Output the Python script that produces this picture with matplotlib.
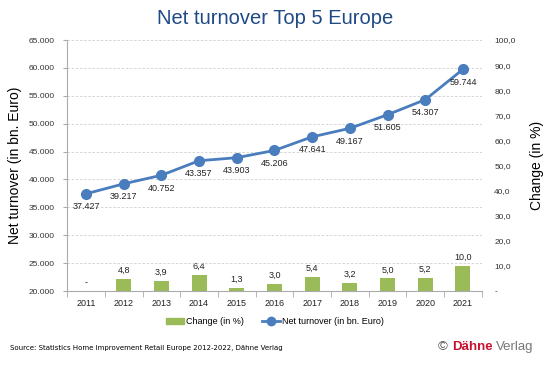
import numpy as np
import matplotlib.pyplot as plt
from matplotlib.patches import Patch
from matplotlib.lines import Line2D

# Daten
jahre = ['2011', '2012', '2013', '2014', '2015', '2016', '2017', '2018', '2019', '2020', '2021']
umsatz = [37427, 39217, 40752, 43357, 43903, 45206, 47641, 49167, 51605, 54307, 59744]
veraenderung = [np.nan, 4.8, 3.9, 6.4, 1.3, 3.0, 5.4, 3.2, 5.0, 5.2, 10.0]

blau = '#4a7dbd'
gruen = '#9bbb59'
titel_blau = '#1f4a86'

plt.rcParams['font.family'] = ['Liberation Sans', 'DejaVu Sans']

fig = plt.figure(figsize=(5.5, 3.67), dpi=100)
ax = fig.add_axes([0.122, 0.207, 0.754, 0.684])
ax2 = ax.twinx()

x = np.arange(len(jahre))

# Balken (rechte Achse)
ax2.bar(x, veraenderung, width=0.4, color=gruen, zorder=2)
for i, v in enumerate(veraenderung):
    txt = '-' if np.isnan(v) else f'{v:.1f}'.replace('.', ',')
    yv = 0 if np.isnan(v) else v
    ax2.annotate(txt, (i, yv), xytext=(0, 3), textcoords='offset points',
                 ha='center', va='bottom', fontsize=6.5, color='#222222')
ax2.set_ylim(0, 100)
ax2.set_yticks(np.arange(0, 101, 10))
ax2.set_yticklabels(['-'] + [f'{t:.1f}'.replace('.', ',') for t in np.arange(10, 101, 10)])
ax2.tick_params(axis='y', length=0, labelsize=6, colors='#333333', pad=9)
ax2.set_ylabel('Change (in %)', fontsize=10, labelpad=10)
for s in ax2.spines.values():
    s.set_visible(False)

# Linie (linke Achse)
ax.set_zorder(ax2.get_zorder() + 1)
ax.patch.set_visible(False)
ax.plot(x, umsatz, color=blau, lw=2, marker='o', ms=7, zorder=3)
for i, v in enumerate(umsatz):
    ax.annotate(f'{v:,}'.replace(',', '.'), (i, v), xytext=(0, -6), textcoords='offset points',
                ha='center', va='top', fontsize=6.5, color='#222222')
ax.set_ylim(20000, 65000)
ax.set_yticks(np.arange(20000, 65001, 5000))
ax.set_yticklabels([f'{t:,}'.replace(',', '.') for t in range(20000, 65001, 5000)])
ax.set_xlim(-0.5, len(jahre) - 0.5)
ax.set_xticks(x)
ax.set_xticklabels(jahre)
ax.set_xticks(np.arange(-0.5, len(jahre), 1), minor=True)
ax.tick_params(axis='x', which='major', length=0, labelsize=6.5, pad=6, colors='#222222')
ax.tick_params(axis='x', which='minor', length=4, color='#aaaaaa')
ax.tick_params(axis='y', length=3, color='#aaaaaa', labelsize=6, colors='#333333', pad=6)
ax.grid(axis='y', color='#d0d0d0', ls=(0, (3, 2)), lw=0.6)
ax.set_ylabel('Net turnover (in bn. Euro)', fontsize=10, labelpad=5)
for s in ['top', 'right']:
    ax.spines[s].set_visible(False)
ax.spines['left'].set_color('#aaaaaa')
ax.spines['bottom'].set_color('#aaaaaa')

fig.text(0.5, 0.95, 'Net turnover Top 5 Europe', ha='center', va='center',
         fontsize=14.5, color=titel_blau)

handles = [Patch(color=gruen, label='Change (in %)'),
           Line2D([], [], color=blau, lw=2, marker='o', ms=6, label='Net turnover (in bn. Euro)')]
fig.legend(handles=handles, loc='center', bbox_to_anchor=(0.5, 0.123), ncol=2,
           frameon=False, fontsize=6.5, handlelength=2, handletextpad=0.2, columnspacing=2)

fig.text(0.018, 0.052, 'Source: Statistics Home Improvement Retail Europe 2012-2022, Dähne Verlag',
         fontsize=5, va='center', family='DejaVu Sans')
fig.text(0.795, 0.055, '©', fontsize=9.5, color='#555555', va='center')
fig.text(0.822, 0.055, 'Dähne', fontsize=9.5, color='#c8102e', weight='bold', va='center')
fig.text(0.901, 0.055, 'Verlag', fontsize=9.5, color='#777777', va='center')

plt.savefig('out.png', dpi=100)
